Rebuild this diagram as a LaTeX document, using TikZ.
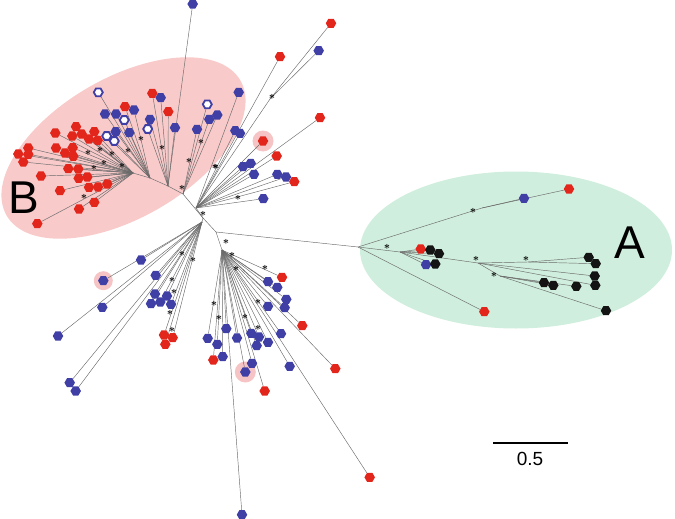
\documentclass[tikz,border=0pt]{standalone}
\usepackage{fontspec}
\setmainfont{Liberation Sans}
\usetikzlibrary{shapes.geometric}
\definecolor{myred}{HTML}{E2261C}
\definecolor{myblue}{HTML}{3F3FA6}
\definecolor{myblack}{HTML}{141414}
\definecolor{pinkfill}{HTML}{F8CACA}
\definecolor{greenfill}{HTML}{CFEEDD}
\definecolor{hilite}{HTML}{F6C4C4}
\definecolor{branch}{HTML}{6A6A6A}
\pgfdeclarelayer{bgl}
\pgfdeclarelayer{lines}
\pgfsetlayers{bgl,lines,main}
\tikzset{
  leaf/.style={regular polygon, regular polygon sides=6, minimum size=10.5pt, inner sep=0pt, draw=none},
  rd/.style={leaf, fill=myred},
  bl/.style={leaf, fill=myblue},
  bk/.style={leaf, fill=myblack},
  op/.style={leaf, fill=white, draw=myblue, line width=1.8pt, minimum size=9pt},
  br/.style={draw=branch, line width=0.45pt},
  ast/.style={inner sep=0pt, text=black, font=\fontsize{10.5}{10.5}\selectfont\boldmath},
  hl/.style={circle, fill=hilite, minimum size=#1, inner sep=0pt}
}
\newcommand{\leafgroup}[3]{%
  \foreach \xx/\yy/\cc [count=\i] in {#3} {
    \node[\cc] (#1\i) at (\xx,\yy) {};
    \begin{pgfonlayer}{lines}\draw[br] (#2) -- (#1\i);\end{pgfonlayer}
  }%
}
\begin{document}
\begin{tikzpicture}[x=1pt,y=-1pt]
\useasboundingbox (0,0) rectangle (675,519);
\begin{pgfonlayer}{bgl}
\node[ellipse, fill=pinkfill, minimum width=270pt, minimum height=140pt, rotate=30, inner sep=0pt] (ellB) at (123.5,148) {};
\node[ellipse, fill=greenfill, minimum width=312pt, minimum height=157pt, inner sep=0pt] (ellA) at (516,250) {};
\node[hl=21pt] (h1) at (263,141) {};
\node[hl=19pt] (h2) at (103.3,280.7) {};
\node[hl=21pt] (h3) at (245.3,372) {};
\end{pgfonlayer}
% internal nodes
\coordinate (c0) at (203,218);
\coordinate (cB) at (183,194);
\coordinate (bR) at (133,173);
\coordinate (bB1) at (150,178);
\coordinate (bB2) at (168,186);
\coordinate (cR) at (196,208);
\coordinate (cR2) at (270,99);
\coordinate (cL) at (202,222);
\coordinate (cA) at (216,232);
\coordinate (cD) at (222,250);
\coordinate (a0) at (358,247);
\coordinate (aU) at (482,208);
\coordinate (aM) at (400,252);
\coordinate (aN) at (478,263);
\coordinate (aN2) at (528,262);
\coordinate (aN3) at (500,276);
\begin{pgfonlayer}{lines}
\draw[br] (c0) -- (cB) (cB) -- (bB2) -- (bB1) -- (bR);
\draw[br] (c0) -- (cR) (cR) -- (cR2);
\draw[br] (c0) -- (cL) (c0) -- (cA) (cA) -- (cD) (cA) -- (a0);
\draw[br] (a0) -- (aU) (a0) -- (aM) (aM) -- (aN) (aN) -- (aN2) (aN) -- (aN3);
\end{pgfonlayer}
% B clade
\leafgroup{br}{bR}{76/126.7/rd, 55.3/133/rd, 72.3/136/rd, 81.7/134/rd, 94.3/131.7/rd, 89/139/rd, 97.7/140.3/rd, 56/148/rd, 65/153/rd, 72.7/147.7/rd, 73.3/156.3/rd, 28.3/148/rd, 18.3/154/rd, 28.3/154.3/rd, 23.3/162/rd, 68.3/168.7/rd, 78.3/169/rd, 41/176/rd, 78.7/178.3/rd, 87.3/177/rd, 107.3/184/rd, 89/187.3/rd, 98/187/rd, 60/190.7/rd, 94.3/202.3/rd, 79/209/rd, 37.3/223.7/rd}
\leafgroup{bba}{bB1}{98.3/92.3/op, 125/106.7/rd, 134/110/bl, 105/114/bl, 116/114/bl, 124.3/120/op, 129.3/132.7/bl, 115.7/131.7/bl, 106.7/136/op, 114.3/141/op}
\leafgroup{bbb}{bB2}{152.3/93.3/rd, 160.7/97.7/bl, 168.3/111.7/rd, 150/119.3/bl, 147.7/129/op, 175/127.7/bl, 192.7/4/bl}
\leafgroup{bbc}{cB}{207.3/104.3/op, 217.3/115/bl, 209.3/119.3/bl, 197/129.3/bl}
% right fan
\leafgroup{rf}{cR}{238.7/92.3/bl, 235.3/130.7/bl, 240/133.3/bl, 280/56.7/rd, 320/117.7/rd, 263/141/rd, 276.7/156/rd, 243/166.7/bl, 250.7/163.3/bl, 254/174.3/bl, 277.3/174.3/bl, 286/177/bl, 294.3/181.7/rd, 263.3/198.7/bl}
\leafgroup{rg}{cR2}{331/23.3/rd, 318.7/50.7/bl}
% lower left
\leafgroup{ll}{cL}{141/260/bl, 103.3/280.7/bl, 102.3/307.3/bl, 58/336/bl, 69.7/382.7/bl, 75.7/391/bl, 155.7/275.3/bl, 155/294/bl, 167/296/bl, 151/303.7/bl, 160.3/302/bl, 171/304.3/bl, 164/335/rd, 172.7/337.7/rd, 165.3/344.3/rd}
% lower fan
\leafgroup{lf}{cD}{282/277.3/rd, 268/281.7/bl, 277.3/287.3/bl, 286.3/299.3/bl, 268/306.3/bl, 284.7/307.7/bl, 302.3/325.7/rd, 226.3/328.7/bl, 207.7/338.3/bl, 217.3/344.3/bl, 237/338/bl, 251.3/333.3/bl, 259/337/bl, 256.7/345.7/bl, 268/342.3/bl, 281/333.7/bl, 222.7/356.7/bl, 213.3/360/rd, 252/363.3/bl, 245.3/372/bl, 289.7/366.3/bl, 335.3/368.7/rd, 264.7/391/rd, 242/514.7/bl, 369.7/477.3/rd}
% A clade
\leafgroup{au}{aU}{569/189/rd, 524/198.3/bl}
\leafgroup{az}{a0}{484.3/311.7/rd}
\leafgroup{am}{aM}{420.7/249/rd, 430.3/250/bk, 439/253.7/bk, 426/264.7/bl, 435.3/264/bk}
\leafgroup{an}{aN2}{588.7/257.3/bk, 595.7/263.7/bk}
\leafgroup{ao}{aN}{594.7/276/bk, 595.3/285.3/bk}
\leafgroup{ap}{aN3}{544/282.7/bk, 553.3/285.3/bk, 576.3/286.3/bk, 606/310.7/bk}
% support asterisks
\foreach \xx/\yy [count=\i] in {88/153, 100/150, 112/154, 104/163, 94/168, 122/166, 128/151, 141/139, 162/148, 201/142, 189/161, 182/188, 84/197, 216/167, 203/214, 272/97, 215/167, 238/198, 182/254, 193/260, 172/280, 174/292, 170/313, 172/330, 226/242, 232/255, 236/269, 265/268, 214/304, 219/318, 245/317, 258/302, 258/328, 473/211, 387/247, 476/259, 526/259, 494/275}
  \node[ast] (s\i) at (\xx,\yy) {$\ast$};
% labels
\node[font=\fontsize{46}{46}\selectfont, inner sep=0pt] (labB) at (24,198) {B};
\node[font=\fontsize{46}{46}\selectfont, inner sep=0pt] (labA) at (630,243) {A};
% scale bar
\coordinate (sb1) at (493,443);
\coordinate (sb2) at (568,443);
\draw[line width=2pt, black] (sb1) -- (sb2);
\node[font=\fontsize{19}{19}\selectfont, inner sep=0pt] (sbl) at (530,459) {0.5};
\end{tikzpicture}
\end{document}
